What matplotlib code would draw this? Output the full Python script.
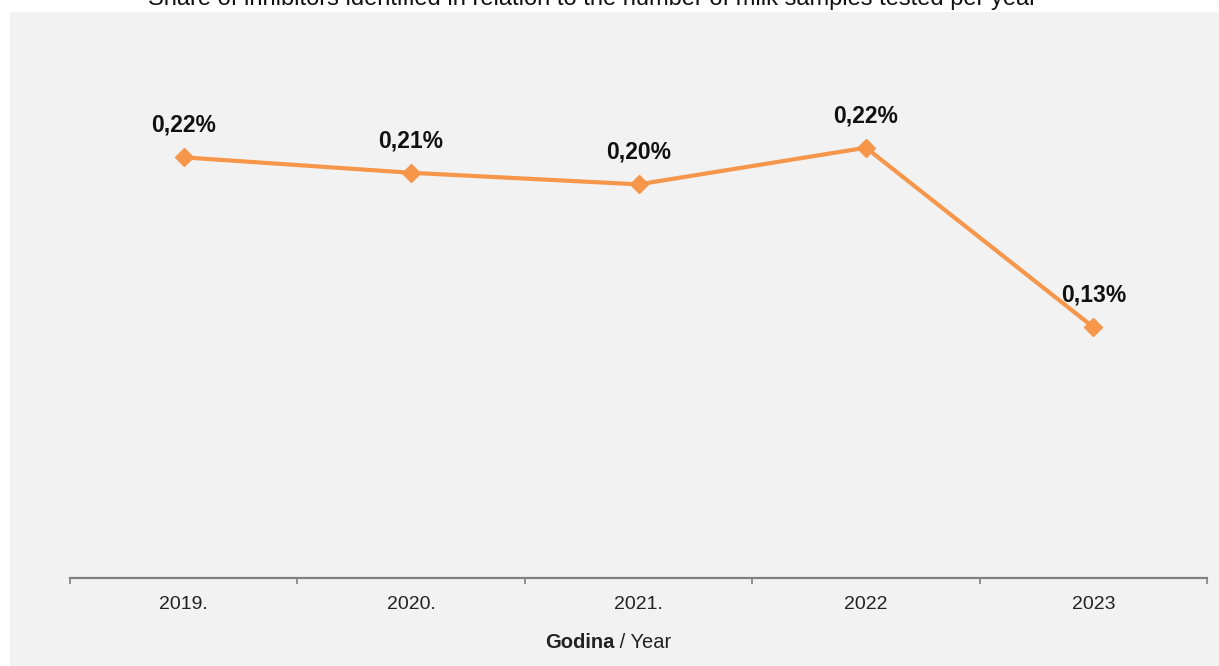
import matplotlib
matplotlib.use("Agg")
import matplotlib.pyplot as plt
from matplotlib.patches import Rectangle

plt.rcParams["font.family"] = ["Liberation Sans", "DejaVu Sans"]

# podaci očitani sa slike (udio inhibitora, %)
godine = ["2019.", "2020.", "2021.", "2022", "2023"]
udio = [0.218, 0.210, 0.204, 0.223, 0.130]
oznake = ["0,22%", "0,21%", "0,20%", "0,22%", "0,13%"]

naslov = "Share of inhibitors identified in relation to the number of milk samples tested per year"
narancasta = "#F5964A"

W, H = 1219, 666
fig = plt.figure(figsize=(W / 100, H / 100), dpi=100)

# sivi okvir grafikona (ispod osi)
fig.patches.append(Rectangle((10 / W, 0), 1 - 10 / W, 1 - 12 / H,
                             transform=fig.transFigure, facecolor="#F2F2F2",
                             edgecolor="none", zorder=-10))

ax = fig.add_axes([70 / W, (H - 578) / H, 1137 / W, 548 / H])
ax.set_facecolor("none")

x = list(range(len(godine)))
ax.plot(x, udio, color=narancasta, lw=3, marker="D", ms=9, zorder=3)
for xi, yi, t in zip(x, udio, oznake):
    ax.annotate(t, (xi, yi), xytext=(0, 23), textcoords="offset points",
                ha="center", va="center", fontsize=16.5, fontweight="bold",
                color="#111111")

ax.set_xlim(-0.5, len(godine) - 0.5)
ax.set_ylim(0, 0.284)

# granice kategorija kao glavne crtice, nazivi na sredini
ax.set_xticks([i - 0.5 for i in range(len(godine) + 1)])
ax.set_xticklabels([])
ax.set_xticks(x, minor=True)
ax.set_xticklabels(godine, minor=True, fontsize=14, color="#222222")
ax.tick_params(axis="x", which="major", direction="out", length=4.5,
               width=1.2, color="#808080")
ax.tick_params(axis="x", which="minor", length=0, pad=13)

for s in ["top", "right", "left"]:
    ax.spines[s].set_visible(False)
ax.spines["bottom"].set_color("#808080")
ax.spines["bottom"].set_linewidth(1.6)
ax.set_yticks([])

# naslov osi: "Godina" podebljano
fig.text(614 / W, 1 - 643 / H, "Godina", ha="right", va="center",
         fontsize=14.5, fontweight="bold", color="#222222")
fig.text(614 / W, 1 - 643 / H, " / Year", ha="left", va="center",
         fontsize=14.5, color="#222222")

fig.text(593 / W, 1 - 5 / H, naslov, ha="center", va="baseline",
         fontsize=17, color="#111111")

fig.savefig("out.png", dpi=100)
